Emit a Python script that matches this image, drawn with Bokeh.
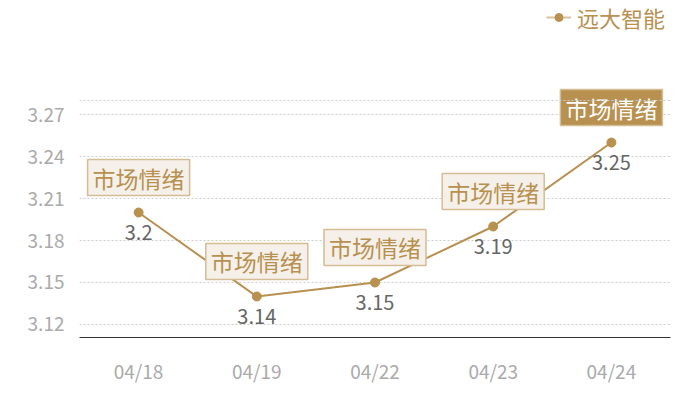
from bokeh.plotting import figure
from bokeh.layouts import column
from bokeh.models import Label, Span, Legend, LegendItem, FixedTicker, ColumnDataSource
from bokeh.core.properties import value
from bokeh.embed import file_html
from bokeh.resources import INLINE

dates = ["04/18", "04/19", "04/22", "04/23", "04/24"]
prices = [3.2, 3.14, 3.15, 3.19, 3.25]
notes = ["市场情绪", "市场情绪", "市场情绪", "市场情绪", "市场情绪"]
y_ticks = [3.12, 3.15, 3.18, 3.21, 3.24, 3.27]
series_name = "远大智能"

GOLD = "#B8904F"
FONT = "Noto Sans CJK SC"

# legend strip (its frame is aligned with the main chart's frame by the column layout)
lg = figure(width=700, height=40, x_range=(0, 1), y_range=(0, 1), x_axis_type=None, y_axis_type=None,
            min_border_left=79, min_border_right=30, min_border_top=0, min_border_bottom=0,
            output_backend="svg", toolbar_location=None, outline_line_color=None)
lg.xgrid.grid_line_color = None
lg.ygrid.grid_line_color = None
l_ln = lg.line([5, 6], [5, 5], line_color=GOLD, line_width=2, line_alpha=0.55)
l_pt = lg.scatter([5], [5], size=10, fill_color=GOLD, line_color=GOLD)
legend = Legend(items=[LegendItem(label=series_name, renderers=[l_ln, l_pt])],
                location=(467, 7), label_text_font=FONT, label_text_font_size="22px",
                label_text_color=GOLD, background_fill_alpha=0, border_line_color=None,
                glyph_width=25, label_standoff=6, padding=0, margin=0)
lg.add_layout(legend)

# main chart
p = figure(x_range=dates, y_range=(3.1107, 3.3229), frame_width=591, frame_height=297,
           min_border_left=79, min_border_right=30, min_border_top=0, min_border_bottom=63,
           output_backend="svg", toolbar_location=None, outline_line_color=None)

src = ColumnDataSource(dict(x=dates, y=prices, lab=[str(v) for v in prices]))
p.line("x", "y", source=src, line_color=GOLD, line_width=2)
p.scatter("x", "y", source=src, size=9, fill_color=GOLD, line_color=GOLD)
p.text("x", "y", text="lab", source=src, text_align="center", text_baseline="middle",
       y_offset=20, text_color="#666666", text_font=value(FONT), text_font_size="20px")

for i, (d, v, n) in enumerate(zip(dates, prices, notes)):
    last = i == len(dates) - 1
    p.add_layout(Label(x=i + 0.5, y=v, text=n, y_offset=35, text_align="center", text_baseline="middle",
                       text_font=FONT, text_font_size="23px",
                       text_color="#FFFFFF" if last else GOLD,
                       background_fill_color=GOLD if last else "#F5F0EA",
                       border_line_color="#D4BC94", border_line_width=1.5,
                       padding={"left": 5, "right": 5, "top": 1, "bottom": 1}))

p.add_layout(Span(location=3.28, dimension="width", line_color="#CCCCCC", line_dash="2 2", line_width=1))

p.xgrid.grid_line_color = None
p.ygrid.grid_line_color = "#CCCCCC"
p.ygrid.grid_line_dash = "2 2"
p.yaxis.ticker = FixedTicker(ticks=y_ticks)
p.yaxis.axis_line_color = None
p.yaxis.major_tick_line_color = None
p.yaxis.minor_tick_line_color = None
p.yaxis.major_label_standoff = 9
p.xaxis.axis_line_color = "#333333"
p.xaxis.axis_line_width = 1
p.xaxis.major_tick_line_color = None
p.xaxis.minor_tick_line_color = None
p.xaxis.major_label_standoff = 13
for ax in (p.xaxis, p.yaxis):
    ax.major_label_text_color = "#AAAAAA"
    ax.major_label_text_font = FONT
    ax.major_label_text_font_size = "19px"

layout = column(lg, p, spacing=0)
open("out.html", "w").write(file_html(layout, INLINE))
